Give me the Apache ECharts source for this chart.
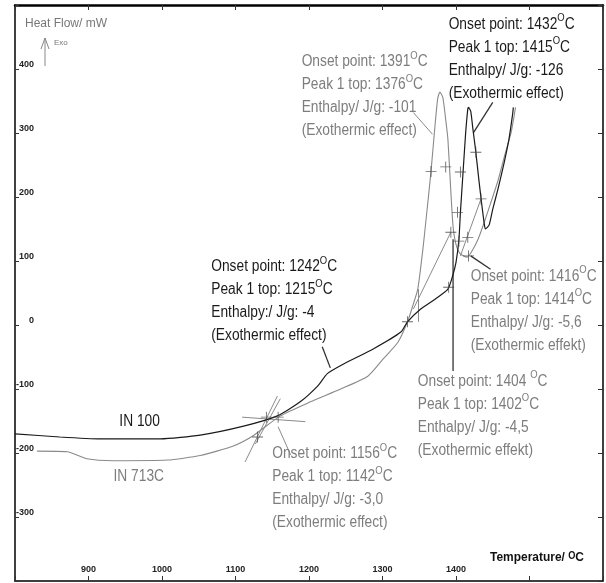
<!DOCTYPE html>
<html><head><meta charset="utf-8">
<script src="https://cdn.jsdelivr.net/npm/echarts@6/dist/echarts.min.js"></script>
<style>html,body{margin:0;padding:0;background:#fff}#c{width:606px;height:583px}</style>
</head><body><div id="c"></div>
<script>
// ---------- data ----------
const xTicks = [900, 1000, 1100, 1200, 1300, 1400];
const yTicks = [-300, -200, -100, 0, 100, 200, 300, 400];

const in100 = [[800,-170],[861,-175],[916,-178],[998,-178],[1052,-172],[1111,-158],[1157,-142],[1188,-120],[1212,-95],[1225,-76],[1247,-61],[1288,-37],[1325,-11],[1334,5],[1352,25],[1370,39],[1389,56],[1395,75],[1400,98],[1404,134],[1406,176],[1409,228],[1413,298],[1416,337],[1417,340],[1420,334],[1423,306],[1427,270],[1431,228],[1435,189],[1438,162],[1440,150],[1445,156],[1450,181],[1457,212],[1465,251],[1472,290],[1477,329],[1478,340]];

const in713c = [[830,-197],[871,-198],[898,-209],[934,-212],[1007,-211],[1052,-204],[1097,-189],[1124,-173],[1161,-142],[1202,-120],[1243,-100],[1280,-80],[1301,-53],[1321,-27],[1334,5],[1342,33],[1348,56],[1355,119],[1360,173],[1366,240],[1371,306],[1375,353],[1378,364],[1382,356],[1386,321],[1389,290],[1393,208],[1396,154],[1400,126],[1406,111],[1415,106],[1421,114],[1430,134],[1438,159],[1447,190],[1457,225],[1466,264],[1475,301],[1481,340]];

const graySegments = [
  [[1109,-144],[1195,-151]],
  [[1113,-214],[1157,-111]],
  [[1127,-186],[1161,-115]],
  [[1342,25],[1393,145]],
  [[1349,5],[1349,56]],
  [[1406,108],[1434,197]],
  [[1342,332],[1368,298]],
  [[1158,-159],[1175,-203]]
];
const darkSegments = [
  [[1450,348],[1424,301]],
  [[1218,-34],[1229,-67]],
  [[1420,108],[1447,87]],
  [[1396,-72],[1396,134]]
];
const crossPoints = [[1142,-144],[1158,-144],[1130,-175],[1334,5],[1366,240],[1386,247],[1406,239],[1427,270],[1434,197],[1402,176],[1393,145],[1404,131],[1416,137],[1417,108],[1390,59]];

const annotationAnchors = [[1190,429],[1390,488],[1067,109],[1420,94],[1348,-70],[1150,-183]];
const annotationTexts = [
  ['Onset point: 1391{o|O}C','Peak 1 top: 1376{o|O}C','Enthalpy/ J/g: -101','(Exothermic effect)'],
  ['Onset point: 1432{o|O}C','Peak 1 top: 1415{o|O}C','Enthalpy/ J/g: -126','(Exothermic effect)'],
  ['Onset point: 1242{o|O}C','Peak 1 top: 1215{o|O}C','Enthalpy:/ J/g: -4','(Exothermic effect)'],
  ['Onset point: 1416{o|O}C','Peak 1 top: 1414{o|O}C','Enthalpy/ J/g: -5,6','(Exothermic effekt)'],
  ['Onset point: 1404 {o|O}C','Peak 1 top: 1402{o|O}C','Enthalpy/ J/g: -4,5','(Exothermic effekt)'],
  ['Onset point: 1156{o|O}C','Peak 1 top: 1142{o|O}C','Enthalpy/ J/g: -3,0','(Exothermic effect)']
];
const annotationDark = [false, true, true, false, false, false];

const seriesLabels = [{name:'IN 100', at:[942,-151]}, {name:'IN 713C', at:[934,-237]}];

// ---------- chart ----------
const FONT = '"Liberation Sans", Arial, sans-serif';
const GRAY = '#7d7d7d', DARK = '#1a1a1a';
const NARROW = 0.86;
const chart = echarts.init(document.getElementById('c'), null, {renderer:'canvas'});

const segSeries = (segs, color, w) => segs.map(s => ({
  type:'line', data:s, xAxisIndex:0, yAxisIndex:0, symbol:'none', silent:true,
  lineStyle:{color, width:w}, z:3
}));

function annotationText(lines, color, size) {
  return {
    text: lines.join('\n'),
    fill: color,
    font: size + 'px ' + FONT,
    lineHeight: 23,
    rich: {
      o: {fill: color, fontSize: 11, fontFamily: FONT, verticalAlign: 'top', lineHeight: 23}
    }
  };
}

const option = {
  animation:false,
  backgroundColor:'#fff',
  textStyle:{fontFamily:FONT},
  grid:{left:15, right:3, top:5, bottom:2, show:false},
  xAxis:[
    {type:'value', min:800, max:1600, interval:100, position:'bottom',
     axisLine:{show:true, onZero:false, lineStyle:{color:'#000', width:1.5}},
     axisTick:{show:true, inside:true, length:5, lineStyle:{color:'#333'}},
     splitLine:{show:false},
     axisLabel:{inside:true, margin:7, fontSize:9, fontWeight:'bold', color:'#222', fontFamily:FONT,
       formatter: v => xTicks.includes(v) ? String(v) : ''}},
    {type:'value', min:800, max:1600, interval:100, position:'top',
     axisLine:{show:true, onZero:false, lineStyle:{color:'#000', width:2.5}},
     axisTick:{show:true, inside:true, length:5, lineStyle:{color:'#333'}},
     splitLine:{show:false}, axisLabel:{show:false}}
  ],
  yAxis:[
    {type:'value', min:-400, max:500, interval:100, position:'left',
     axisLine:{show:true, onZero:false, lineStyle:{color:'#000', width:1.5}},
     axisTick:{show:true, inside:true, length:4, lineStyle:{color:'#333'}},
     splitLine:{show:false},
     axisLabel:{inside:true, margin:19, align:'right', fontSize:9, fontWeight:'bold', color:'#222', fontFamily:FONT,
       verticalAlign:'bottom', formatter: v => yTicks.includes(v) ? String(v) : ''}},
    {type:'value', min:-400, max:500, interval:100, position:'right',
     axisLine:{show:true, onZero:false, lineStyle:{color:'#000', width:1.5}},
     axisTick:{show:true, inside:true, length:5, lineStyle:{color:'#333'}},
     splitLine:{show:false}, axisLabel:{show:false}}
  ],
  graphic:[
    {type:'text', left:25, top:18, style:{text:'Heat Flow/ mW', fill:'#777', font:'12px ' + FONT}},
    {type:'polyline', shape:{points:[[45,66],[45,38]]}, style:{stroke:'#888', lineWidth:1}},
    {type:'polyline', shape:{points:[[41,49],[45,38],[49,49]]}, style:{stroke:'#888', lineWidth:1, fill:null}},
    {type:'text', left:54, top:39, style:{text:'Exo', fill:'#777', font:'8px ' + FONT}},
    {type:'text', x:490, y:551, scaleX:0.92, style:{text:'Temperature/ {o|O}C', fill:'#111', font:'bold 13px ' + FONT,
      rich:{o:{fill:'#111', fontSize:10, fontWeight:'bold', verticalAlign:'top', fontFamily:FONT}}}}
  ],
  series:[
    {name:'IN 713C', type:'line', data:in713c, symbol:'none', smooth:0.2, silent:true,
     lineStyle:{color:'#8a8a8a', width:1.1}, z:4},
    {name:'IN 100', type:'line', data:in100, symbol:'none', smooth:0.2, silent:true,
     lineStyle:{color:'#1a1a1a', width:1.2}, z:5},
    ...segSeries(graySegments, '#8a8a8a', 1),
    ...segSeries(darkSegments, '#333', 1.3),
    {type:'scatter', data:crossPoints, silent:true, z:6,
     symbol:'path://M4.6,0h0.8v4.6h4.6v0.8h-4.6v4.6h-0.8v-4.6h-4.6v-0.8h4.6z', symbolSize:11,
     itemStyle:{color:'#444'}},
    {type:'custom', data:annotationAnchors.map((a,i)=>[a[0],a[1],i]), silent:true, z:10,
     renderItem:(params, api) => {
       const p = api.coord([api.value(0), api.value(1)]);
       const i = api.value(2);
       return {type:'text', x:p[0], y:p[1], scaleX:NARROW,
         style: annotationText(annotationTexts[i], annotationDark[i] ? DARK : GRAY, 16)};
     }},
    {type:'custom', data:seriesLabels.map((s,i)=>[s.at[0], s.at[1], i]), silent:true, z:10,
     renderItem:(params, api) => {
       const p = api.coord([api.value(0), api.value(1)]);
       const i = api.value(2);
       return {type:'text', x:p[0], y:p[1], scaleX:NARROW,
         style:{text:seriesLabels[i].name, fill: i===0 ? DARK : GRAY, font:'16px ' + FONT, align:'left', verticalAlign:'middle'}};
     }}
  ]
};
chart.setOption(option);
</script></body></html>
